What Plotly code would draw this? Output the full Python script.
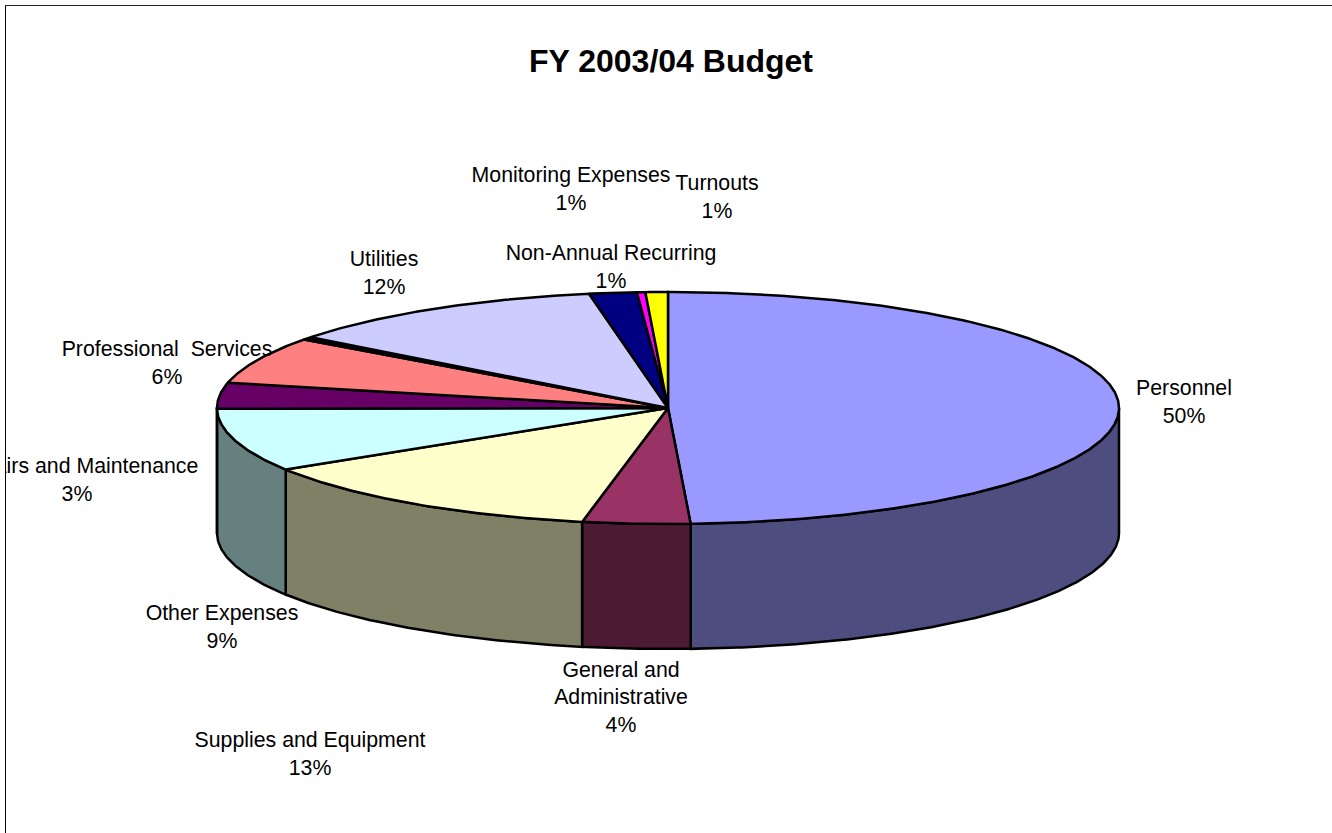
import numpy as np
import plotly.graph_objects as go

# --- data ---
slice_names = ["Personnel", "General and Administrative", "Supplies and Equipment", "Other Expenses",
               "Repairs and Maintenance", "Professional Services", "Unlabelled sliver", "Utilities",
               "Non-Annual Recurring", "Monitoring Expenses", "Turnouts"]
slice_values = [49.2, 3.85, 13.05, 8.8, 3.6, 6.55, 0.4, 11.75, 1.7, 0.3, 0.8]
slice_colors = ["#9999FF", "#993366", "#FFFFCC", "#CCFFFF", "#660066", "#FF8080",
                "#000000", "#CCCCFF", "#000080", "#FF00FF", "#FFFF00"]
side_colors = ["#4D4D80", "#4D1A33", "#808066", "#668080", "#330033", "#804040",
               "#000000", "#666680", "#000040", "#800080", "#808000"]

label_texts = ["Personnel<br>50%", "General and<br>Administrative<br>4%", "Supplies and Equipment<br>13%",
               "Other Expenses<br>9%", "Repairs and Maintenance<br>3%", "Professional  Services<br>6%",
               "Utilities<br>12%", "Non-Annual Recurring<br>1%", "Monitoring Expenses<br>1%", "Turnouts<br>1%"]
title_text = "<b>FY 2003/04 Budget</b>"

# --- layout of the drawing (pixels) ---
W, H = 1332, 833
CX, CY, RX, RY, DEPTH = 668, 408, 451, 116, 125
label_x = [1184, 621, 310, 222, 77, 167, 384, 611, 571, 717]
label_y = [404, 699, 756, 629, 482, 365, 275, 269, 191, 199]
FONT = "Liberation Sans, Arial, sans-serif"


def arc(a0, a1, dy=0.0):
    t = np.radians(np.linspace(a0, a1, max(int(abs(a1 - a0) * 2), 2) + 1))
    return CX + RX * np.sin(t), CY - RY * np.cos(t) + dy


fig = go.Figure()
edges = np.concatenate([[0], np.cumsum(slice_values)]) / sum(slice_values) * 360

# side walls of the slices on the near half
for a0, a1, c in zip(edges[:-1], edges[1:], side_colors):
    lo, hi = max(a0, 90), min(a1, 270)
    if hi <= lo:
        continue
    xt, yt = arc(lo, hi)
    xb, yb = arc(hi, lo, DEPTH)
    fig.add_trace(go.Scatter(x=np.r_[xt, xb, xt[0]], y=np.r_[yt, yb, yt[0]], mode="lines", fill="toself",
                             fillcolor=c, line=dict(color="black", width=2.5), hoverinfo="skip", showlegend=False))

# top faces
for a0, a1, c, name in zip(edges[:-1], edges[1:], slice_colors, slice_names):
    xt, yt = arc(a0, a1)
    fig.add_trace(go.Scatter(x=np.r_[CX, xt, CX], y=np.r_[CY, yt, CY], mode="lines", fill="toself", name=name,
                             fillcolor=c, line=dict(color="black", width=2.5), hoverinfo="name", showlegend=False))

fig.add_trace(go.Scatter(x=label_x, y=label_y, text=label_texts, mode="text", textposition="middle center",
                         textfont=dict(family=FONT, size=21.3, color="black"), cliponaxis=True,
                         hoverinfo="skip", showlegend=False))

fig.update_layout(
    width=W, height=H, margin=dict(l=6, r=0, t=6, b=0, pad=0, autoexpand=False),
    paper_bgcolor="white", plot_bgcolor="white",
    xaxis=dict(range=[6, W], side="top", showline=True, linecolor="#222222", linewidth=1, showgrid=False,
               zeroline=False, showticklabels=False, ticks="", fixedrange=True),
    yaxis=dict(range=[H, 6], showline=True, linecolor="black", linewidth=1, showgrid=False,
               zeroline=False, showticklabels=False, ticks="", fixedrange=True),
    annotations=[dict(text=title_text, x=670.5, y=61, xref="x", yref="y", showarrow=False,
                      font=dict(family=FONT, size=32, color="black"))],
)
fig.write_html("out.html", config=dict(displayModeBar=False),
               post_script="document.body.style.margin='0';document.documentElement.style.overflow='hidden';")
